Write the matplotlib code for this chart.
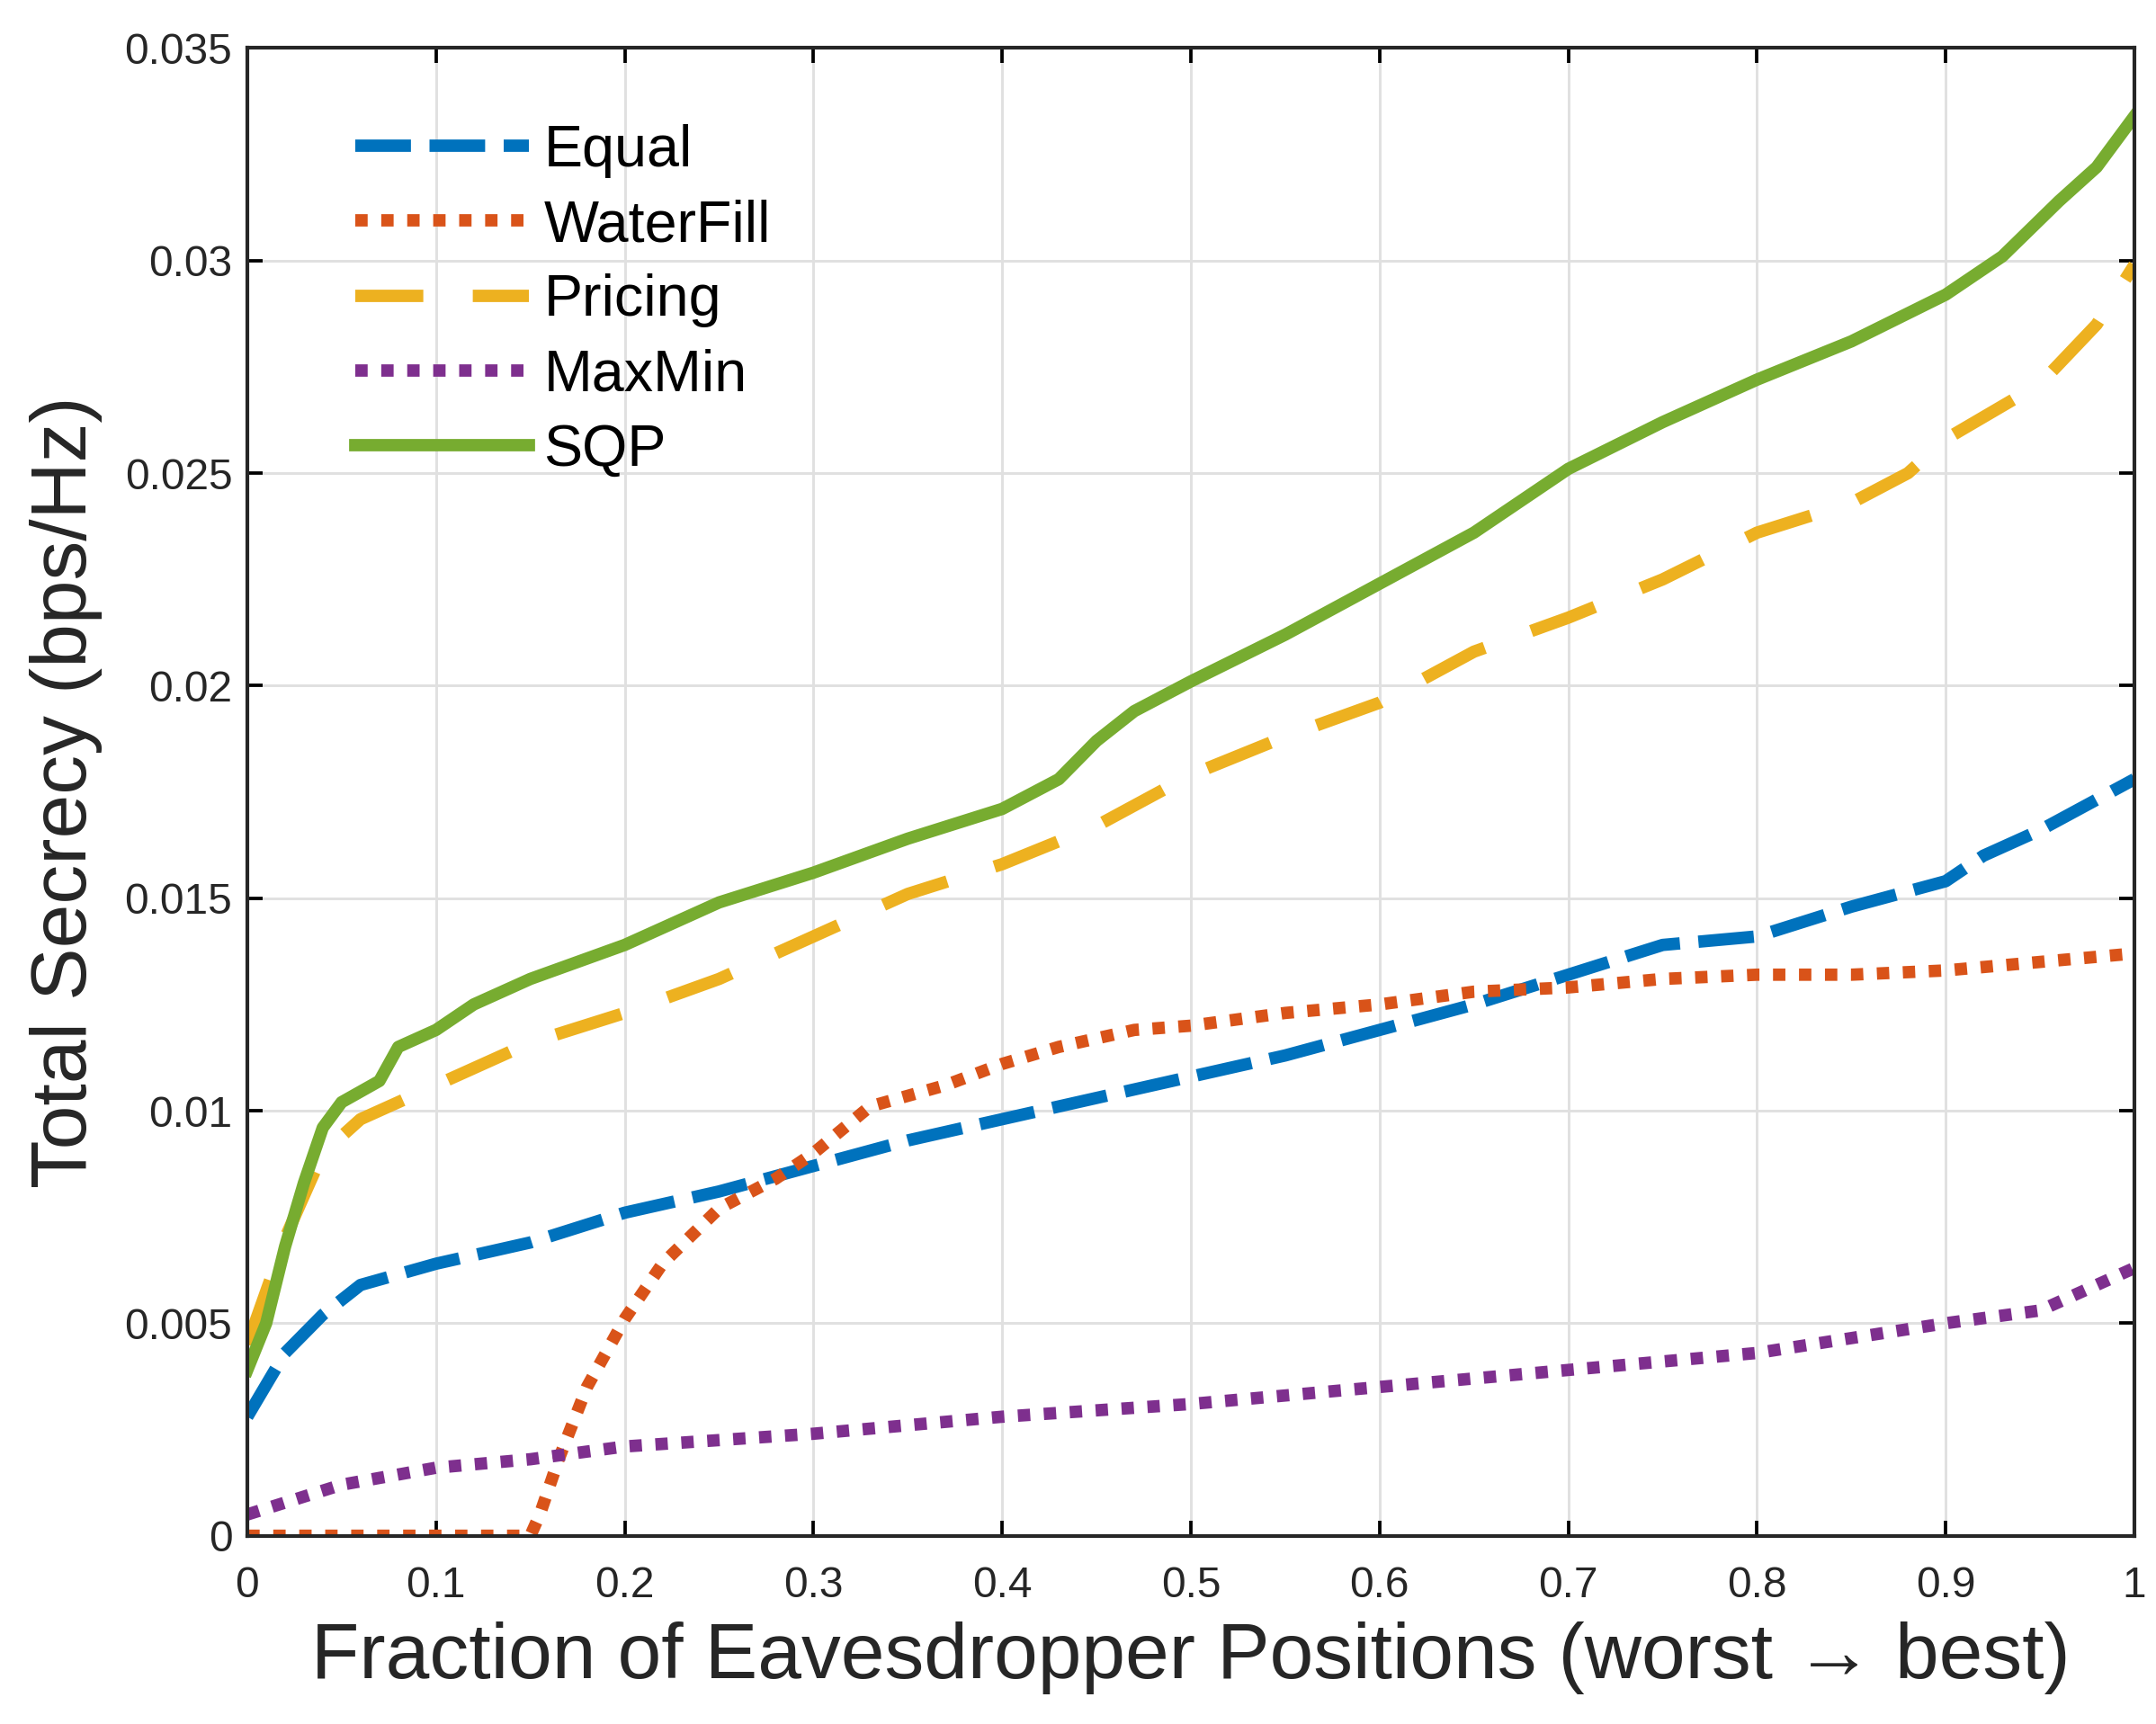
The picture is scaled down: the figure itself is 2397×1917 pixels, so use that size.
import matplotlib
matplotlib.use("Agg")
import matplotlib.pyplot as plt

plt.rcParams['font.family'] = ['Liberation Sans', 'DejaVu Sans']

# fraction of eavesdropper positions
x_sqp = [0, 0.01, 0.02, 0.03, 0.04, 0.05, 0.07, 0.08, 0.1, 0.12, 0.15, 0.2, 0.25, 0.3,
         0.35, 0.4, 0.43, 0.45, 0.47, 0.5, 0.55, 0.6, 0.65, 0.7, 0.75, 0.8, 0.85, 0.9,
         0.93, 0.96, 0.98, 1.0]
y_sqp = [0.0039, 0.005, 0.0068, 0.0083, 0.0096, 0.0102, 0.0107, 0.0115, 0.0119, 0.0125,
         0.0131, 0.0139, 0.0149, 0.0156, 0.0164, 0.0171, 0.0178, 0.0187, 0.0194, 0.0201,
         0.0212, 0.0224, 0.0236, 0.0251, 0.0262, 0.0272, 0.0281, 0.0292, 0.0301, 0.0314,
         0.0322, 0.0334]

x_pricing = [0, 0.02, 0.04, 0.06, 0.1, 0.15, 0.2, 0.25, 0.3, 0.35, 0.4, 0.45, 0.5, 0.55,
             0.6, 0.65, 0.7, 0.75, 0.8, 0.85, 0.88, 0.9, 0.95, 0.98, 1.0]
y_pricing = [0.0045, 0.007, 0.009, 0.0098, 0.0106, 0.0116, 0.0123, 0.0131, 0.0141, 0.0151,
             0.0158, 0.0167, 0.0179, 0.0188, 0.0196, 0.0208, 0.0216, 0.0225, 0.0236, 0.0243,
             0.025, 0.0258, 0.0271, 0.0285, 0.0299]

x_equal = [0, 0.02, 0.04, 0.06, 0.1, 0.15, 0.2, 0.25, 0.3, 0.35, 0.4, 0.45, 0.5, 0.55, 0.6,
           0.65, 0.7, 0.75, 0.8, 0.85, 0.9, 0.92, 0.95, 1.0]
y_equal = [0.0028, 0.0043, 0.0052, 0.0059, 0.0064, 0.0069, 0.0076, 0.0081, 0.0087, 0.0093,
           0.0098, 0.0103, 0.0108, 0.0113, 0.0119, 0.0125, 0.0132, 0.0139, 0.0141, 0.0148,
           0.0154, 0.016, 0.0166, 0.0178]

x_water = [0, 0.05, 0.1, 0.15, 0.155, 0.165, 0.18, 0.2, 0.22, 0.25, 0.28, 0.3, 0.33, 0.37,
           0.4, 0.43, 0.47, 0.5, 0.55, 0.6, 0.65, 0.7, 0.75, 0.8, 0.85, 0.9, 1.0]
y_water = [0, 0, 0, 0, 0.0005, 0.0018, 0.0035, 0.0051, 0.0064, 0.0077, 0.0084, 0.009, 0.0101,
           0.0106, 0.0111, 0.0115, 0.0119, 0.012, 0.0123, 0.0125, 0.0128, 0.0129, 0.0131,
           0.0132, 0.0132, 0.0133, 0.0137]

x_maxmin = [0, 0.05, 0.1, 0.15, 0.2, 0.3, 0.4, 0.5, 0.6, 0.7, 0.8, 0.9, 0.95, 1.0]
y_maxmin = [0.0005, 0.0012, 0.0016, 0.0018, 0.0021, 0.0024, 0.0028, 0.0031, 0.0035, 0.0039,
            0.0043, 0.005, 0.0053, 0.0063]

fig = plt.figure(figsize=(2397 / 300, 1917 / 300), dpi=300)
ax = fig.add_axes([0.1147, 0.1092, 0.8753, 0.8629])

lw = 3.3
ax.plot(x_equal, y_equal, color='#0072BD', lw=lw, dashes=(4.5, 1.5), label='Equal')
ax.plot(x_water, y_water, color='#D95319', lw=lw, dashes=(1, 1.1), label='WaterFill')
ax.plot(x_pricing, y_pricing, color='#EDB120', lw=lw, dashes=(5.5, 4), label='Pricing')
ax.plot(x_maxmin, y_maxmin, color='#7E2F8E', lw=lw, dashes=(1, 1.1), label='MaxMin')
ax.plot(x_sqp, y_sqp, color='#77AC30', lw=lw, label='SQP')

ax.set_xlim(0, 1)
ax.set_ylim(0, 0.035)
ax.set_xticks([0, 0.1, 0.2, 0.3, 0.4, 0.5, 0.6, 0.7, 0.8, 0.9, 1])
ax.set_xticklabels(['0', '0.1', '0.2', '0.3', '0.4', '0.5', '0.6', '0.7', '0.8', '0.9', '1'])
ax.set_yticks([0, 0.005, 0.01, 0.015, 0.02, 0.025, 0.03, 0.035])
ax.set_yticklabels(['0', '0.005', '0.01', '0.015', '0.02', '0.025', '0.03', '0.035'])
ax.grid(True, color='#e0e0e0', lw=0.7)
ax.set_axisbelow(True)
ax.tick_params(direction='in', top=True, right=True, length=4, width=0.9,
               labelsize=11.5, labelcolor='#262626')
ax.tick_params(axis='x', pad=8)
ax.tick_params(axis='y', pad=4)
for s in ax.spines.values():
    s.set_linewidth(1.0)
    s.set_color('#262626')

ax.set_xlabel('Fraction of Eavesdropper Positions (worst \u2192 best)', fontsize=21,
              color='#262626', labelpad=4)
ax.set_ylabel('Total Secrecy (bps/Hz)', fontsize=21, color='#262626', labelpad=6)

ax.legend(loc='upper left', bbox_to_anchor=(0.057, 0.949), frameon=False, fontsize=15.5,
          handlelength=3.0, handletextpad=0.25, labelspacing=0.36, borderpad=0,
          borderaxespad=0)

fig.savefig('out.png', dpi=300)
